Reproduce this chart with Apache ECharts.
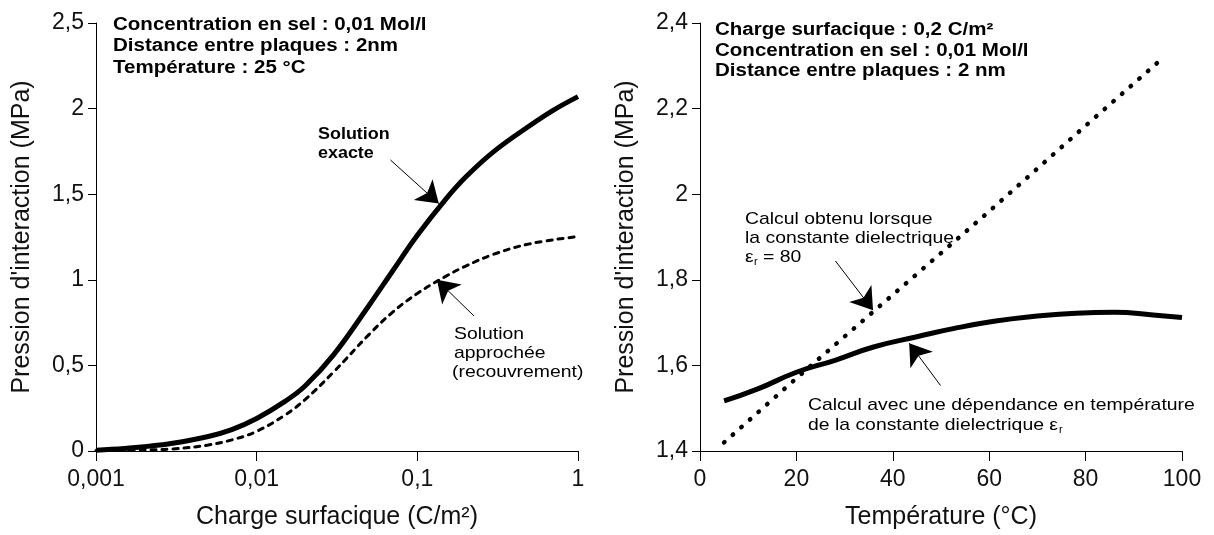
<!DOCTYPE html>
<html>
<head>
<meta charset="utf-8">
<script src="https://cdn.jsdelivr.net/npm/echarts@6/dist/echarts.min.js"></script>
<style>
html, body { margin: 0; padding: 0; background: #fff; }
#main { width: 1214px; height: 535px; }
</style>
</head>
<body>
<div id="main"></div>
<script>
var myChart = echarts.init(document.getElementById('main'));

// left plot : pression vs charge surfacique (log)
var chargeExacte = [0.001, 0.0015, 0.002, 0.003, 0.005, 0.007, 0.01, 0.015, 0.02, 0.03, 0.05, 0.07, 0.1, 0.15, 0.2, 0.3, 0.5, 0.7, 1];
var pressionExacte = [0.005, 0.015, 0.025, 0.045, 0.085, 0.125, 0.19, 0.29, 0.38, 0.56, 0.85, 1.05, 1.26, 1.47, 1.6, 1.75, 1.9, 1.99, 2.07];
var chargeApprochee = [0.001, 0.002, 0.003, 0.005, 0.007, 0.01, 0.015, 0.02, 0.03, 0.05, 0.07, 0.1, 0.15, 0.2, 0.3, 0.5, 0.95];
var pressionApprochee = [0.003, 0.006, 0.012, 0.035, 0.065, 0.115, 0.21, 0.3, 0.46, 0.68, 0.81, 0.92, 1.02, 1.08, 1.15, 1.21, 1.25];

// right plot : pression vs temperature
var tempDependante = [5, 12, 20, 28, 36, 45, 53, 61, 69, 78, 86, 94, 100];
var pressionDependante = [1.517, 1.545, 1.584, 1.612, 1.643, 1.667, 1.687, 1.703, 1.714, 1.722, 1.724, 1.718, 1.712];
var tempConstante = [5, 20, 40, 60, 80, 96];
var pressionConstante = [1.42, 1.57, 1.765, 1.96, 2.16, 2.318];

// arrows [from, to] in data coords
var flecheExacte = [[0.068, 1.70], [0.136, 1.445]];
var flecheApprochee = [[0.225, 0.789], [0.1324, 1.0]];
var flecheConstante = [[28.1, 1.844], [35.9, 1.729]];
var flecheDependante = [[49.9, 1.553], [43.4, 1.652]];

function pairs(xs, ys) {
    return xs.map(function (x, i) { return [x, ys[i]]; });
}
function virgule(v) {
    return String(+(+v).toPrecision(6)).replace('.', ',');
}
function fleche(f) {
    return {
        silent: true,
        symbol: ['none', 'arrow'],
        symbolSize: 21,
        lineStyle: { color: '#000', width: 1, type: 'solid' },
        itemStyle: { color: '#000' },
        label: { show: false },
        emphasis: { disabled: true },
        data: [[{ coord: f[0] }, { coord: f[1] }]]
    };
}

var FONT = '"Liberation Sans", Arial, Helvetica, sans-serif';
var axisText = { color: '#111', fontSize: 23, fontFamily: FONT };
var nameText = { color: '#111', fontSize: 25, fontFamily: FONT };

function xAxe(opt) {
    return Object.assign({
        nameLocation: 'middle',
        nameGap: 54,
        nameTextStyle: nameText,
        axisLine: { show: true, onZero: false, lineStyle: { color: '#000', width: 1 } },
        axisTick: { show: true, length: 10, lineStyle: { color: '#000' } },
        axisLabel: Object.assign({ margin: 17, formatter: virgule }, axisText),
        splitLine: { show: false }
    }, opt);
}
function yAxe(opt) {
    return Object.assign({
        type: 'value',
        nameLocation: 'middle',
        nameGap: 61,
        nameTextStyle: nameText,
        axisLine: { show: true, onZero: false, lineStyle: { color: '#000', width: 1 } },
        axisTick: { show: true, length: 8, lineStyle: { color: '#000' } },
        axisLabel: Object.assign({ margin: 12, formatter: virgule }, axisText),
        splitLine: { show: false }
    }, opt);
}

// text helpers
var ctx = document.createElement('canvas').getContext('2d');
function txt(x, y, s, font, sx) {
    return {
        type: 'text', x: x, y: y, scaleX: sx, silent: true,
        style: { text: s, font: font, fill: '#000', textAlign: 'left', textVerticalAlign: 'middle' }
    };
}
function largeur(s, font, sx) {
    ctx.font = font;
    return ctx.measureText(s).width * sx;
}

var bold = 'bold 18px ' + FONT;
var bold2 = 'bold 16px ' + FONT;
var norm = '17px ' + FONT;
var petit = '11px ' + FONT;
var SX = 1.14;

var ligneDiel = 'de la constante dielectrique \u03b5';
var xDiel = 808 + largeur(ligneDiel, norm, SX);

var textes = [
    txt(113, 25, 'Concentration en sel : 0,01 Mol/l', bold, SX),
    txt(113, 46.5, 'Distance entre plaques : 2nm', bold, SX),
    txt(113, 68, 'Température : 25 °C', bold, SX),
    txt(715, 30, 'Charge surfacique : 0,2 C/m²', bold, SX),
    txt(715, 51, 'Concentration en sel : 0,01 Mol/l', bold, SX),
    txt(715, 71, 'Distance entre plaques : 2 nm', bold, SX),
    txt(318, 135, 'Solution', bold2, 1.12),
    txt(318, 154, 'exacte', bold2, 1.12),
    txt(454, 334, 'Solution', norm, SX),
    txt(454, 353, 'approchée', norm, SX),
    txt(452, 372, '(recouvrement)', norm, SX),
    txt(745, 219, 'Calcul obtenu lorsque', norm, SX),
    txt(745, 238, 'la constante dielectrique', norm, SX),
    txt(745, 257, '\u03b5', norm, SX),
    txt(754, 262, 'r', petit, 1),
    txt(763, 257, '= 80', norm, SX),
    txt(808, 405, 'Calcul avec une dépendance en température', norm, SX),
    txt(808, 425, ligneDiel, norm, SX),
    txt(xDiel + 1, 430, 'r', petit, 1)
];

option = {
    backgroundColor: '#fff',
    animation: false,
    grid: [
        { left: 96, top: 23, width: 482, height: 429 },
        { left: 700, top: 23, width: 482, height: 430 }
    ],
    xAxis: [
        xAxe({ gridIndex: 0, type: 'log', logBase: 10, min: 0.001, max: 1, name: 'Charge surfacique (C/m²)' }),
        xAxe({ gridIndex: 1, type: 'value', min: 0, max: 100, interval: 20, name: 'Température (°C)' })
    ],
    yAxis: [
        yAxe({ gridIndex: 0, min: 0, max: 2.5, interval: 0.5, name: "Pression d'interaction (MPa)" }),
        yAxe({ gridIndex: 1, min: 1.4, max: 2.4, interval: 0.2, name: "Pression d'interaction (MPa)" })
    ],
    graphic: { elements: textes },
    series: [
        {
            name: 'Solution approchée',
            type: 'line',
            xAxisIndex: 0, yAxisIndex: 0,
            data: pairs(chargeApprochee, pressionApprochee),
            smooth: 0.4,
            showSymbol: false,
            lineStyle: { color: '#000', width: 3, type: [5, 6], cap: 'round' },
            markLine: fleche(flecheApprochee)
        },
        {
            name: 'Solution exacte',
            type: 'line',
            xAxisIndex: 0, yAxisIndex: 0,
            data: pairs(chargeExacte, pressionExacte),
            smooth: 0.4,
            showSymbol: false,
            lineStyle: { color: '#000', width: 5 },
            markLine: fleche(flecheExacte)
        },
        {
            name: 'Dépendance en température',
            type: 'line',
            xAxisIndex: 1, yAxisIndex: 1,
            data: pairs(tempDependante, pressionDependante),
            smooth: true,
            showSymbol: false,
            lineStyle: { color: '#000', width: 5 },
            markLine: fleche(flecheDependante)
        },
        {
            name: 'Constante = 80',
            type: 'line',
            xAxisIndex: 1, yAxisIndex: 1,
            data: pairs(tempConstante, pressionConstante),
            showSymbol: false,
            lineStyle: { color: '#000', width: 4.5, type: [0.5, 11], cap: 'round' },
            markLine: fleche(flecheConstante)
        }
    ]
};

myChart.setOption(option);
</script>
</body>
</html>
